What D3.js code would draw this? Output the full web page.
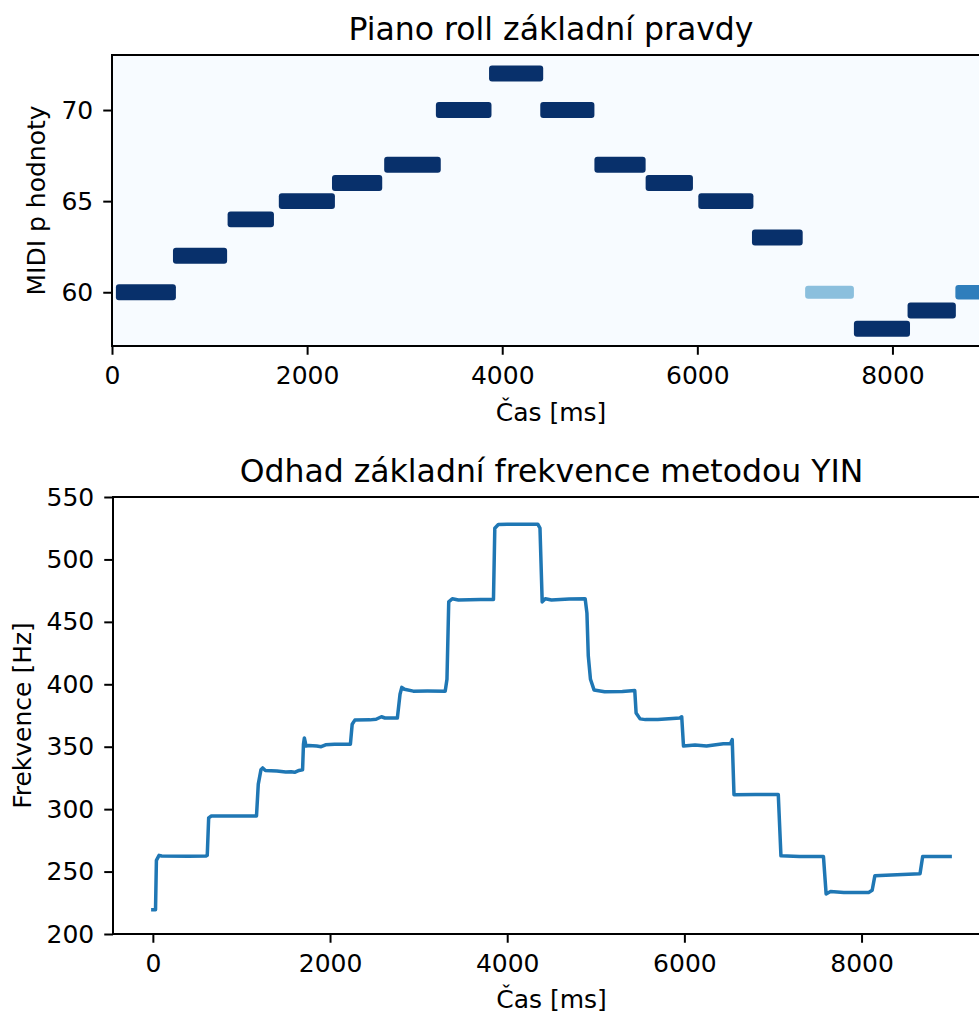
<!DOCTYPE html>
<html>
<head>
<meta charset="utf-8">
<script src="https://cdn.jsdelivr.net/npm/d3@7"></script>
<style>
  body { margin: 0; background: #fff; }
  svg { display: block; font-family: "DejaVu Sans", sans-serif; }
</style>
</head>
<body>
<svg id="chart" width="979" height="1014"></svg>
<script>
// ground-truth notes (piano roll)
const notePitch = [60, 62, 64, 65, 66, 67, 70, 72, 70, 67, 66, 65, 63, 60, 58, 59, 60];
const noteOn    = [40, 625, 1185, 1710, 2255, 2790, 3320, 3865, 4390, 4945, 5470, 6010, 6560, 7105, 7605, 8155, 8645];
const noteOff   = [655, 1180, 1660, 2285, 2770, 3370, 3890, 4420, 4945, 5470, 5955, 6575, 7080, 7605, 8180, 8650, 9000];
const noteVel   = [1, 1, 1, 1, 1, 1, 1, 1, 1, 1, 1, 1, 1, 0.42, 1, 1, 0.7];

// YIN estimate
const timeMs = [0, 30, 40, 70, 100, 400, 600, 614, 630, 660, 900, 1170, 1190, 1220, 1240, 1270, 1400, 1500, 1560, 1600,
  1650, 1690, 1700, 1710, 1730, 1760, 1850, 1900, 1950, 2050, 2230, 2250, 2280, 2450, 2520, 2580, 2620, 2760, 2790, 2810,
  2840, 2940, 3100, 3300, 3320, 3340, 3380, 3450, 3700, 3845, 3860, 3900, 4000, 4345, 4370, 4395, 4430, 4500, 4700, 4880,
  4900, 4915, 4940, 4980, 5100, 5300, 5440, 5455, 5500, 5560, 5700, 5950, 5970, 5990, 6120, 6250, 6440, 6520, 6540, 6560,
  6800, 7060, 7090, 7300, 7570, 7600, 7650, 7800, 8080, 8120, 8150, 8400, 8660, 8690, 8800, 9000];
const freqHz = [219.5, 219.5, 259, 263, 262.5, 262.3, 262.4, 263, 293, 294.5, 294.6, 294.6, 320, 331.5, 333, 331, 330.5, 329.8, 330, 329.5,
  331, 331.5, 352, 357, 350.5, 351, 350.5, 350, 351.5, 352, 352, 368, 371.3, 371.5, 372, 374, 373, 373, 392, 397.5,
  396, 394.5, 394.6, 394.5, 404, 466, 468.5, 467.5, 468, 468, 525, 528, 528.2, 528.2, 525, 466, 468.5, 467.5, 468.3, 468.5,
  457, 423, 404, 395.5, 394, 394.3, 395, 377, 372.3, 371.7, 371.7, 373, 374, 350.5, 351.3, 350.5, 352.4, 352.4, 355.7, 311.6,
  311.7, 311.7, 262.6, 262, 262, 232.1, 234, 233.3, 233.3, 235, 246.6, 247.5, 248.2, 262, 262, 262];

const xTicks = [0, 2000, 4000, 6000, 8000];
const midiTicks = [60, 65, 70];
const hzTicks = [200, 250, 300, 350, 400, 450, 500, 550];

const svg = d3.select("#chart");
const fs = 25;
const titleFs = 31.5;

function styleAxis(g) {
  g.attr("font-family", "DejaVu Sans").attr("font-size", fs);
  g.selectAll("path").remove();
  g.selectAll("line").attr("stroke", "#000").attr("stroke-width", 2);
  g.selectAll("text").attr("fill", "#000");
}

// ---------- top: piano roll ----------
const roll = { l: 112, r: 990, t: 55, b: 346 };
const x1 = d3.scaleLinear().domain([0, 9000]).range([roll.l, roll.r]);
const y1 = d3.scaleLinear().domain([57.05, 73.02]).range([roll.b, roll.t]);
const color = d3.scaleSequential(d3.interpolateBlues).domain([0, 1]);

svg.append("rect")
  .attr("x", roll.l).attr("y", roll.t)
  .attr("width", roll.r - roll.l).attr("height", roll.b - roll.t)
  .attr("fill", color(0));

const semi = y1(0) - y1(1);
svg.append("g")
  .selectAll("rect")
  .data(notePitch)
  .join("rect")
  .attr("x", (d, i) => x1(noteOn[i]))
  .attr("width", (d, i) => x1(noteOff[i]) - x1(noteOn[i]))
  .attr("y", (d, i) => y1(d) - semi * (0.3 + 0.3 * noteVel[i]) / 2 - 2.5)
  .attr("height", (d, i) => semi * (0.3 + 0.3 * noteVel[i]) + 5)
  .attr("rx", 3)
  .attr("fill", (d, i) => color(noteVel[i]));

svg.append("rect")
  .attr("x", roll.l).attr("y", roll.t)
  .attr("width", roll.r - roll.l).attr("height", roll.b - roll.t)
  .attr("fill", "none").attr("stroke", "#000").attr("stroke-width", 2);

svg.append("g")
  .attr("transform", `translate(0,${roll.b})`)
  .call(d3.axisBottom(x1).tickValues(xTicks).tickSize(8.75).tickPadding(11.5).tickFormat(d3.format("d")))
  .call(styleAxis);

svg.append("g")
  .attr("transform", `translate(${roll.l},0)`)
  .call(d3.axisLeft(y1).tickValues(midiTicks).tickSize(8.75).tickPadding(10))
  .call(styleAxis);

svg.append("text")
  .attr("x", (roll.l + roll.r) / 2).attr("y", 40)
  .attr("text-anchor", "middle").attr("font-size", titleFs)
  .text("Piano roll základní pravdy");

svg.append("text")
  .attr("x", (roll.l + roll.r) / 2).attr("y", 421)
  .attr("text-anchor", "middle").attr("font-size", fs)
  .text("Čas [ms]");

svg.append("text")
  .attr("transform", `translate(45,${(roll.t + roll.b) / 2}) rotate(-90)`)
  .attr("text-anchor", "middle").attr("font-size", fs)
  .text("MIDI p hodnoty");

// ---------- bottom: YIN ----------
const yin = { l: 113, r: 990, t: 497, b: 934 };
const x2 = d3.scaleLinear().domain([-450, 9450]).range([yin.l, yin.r]);
const y2 = d3.scaleLinear().domain([200, 550]).range([yin.b, yin.t]);

const line = d3.line()
  .x((d, i) => x2(timeMs[i]))
  .y(d => y2(d));

svg.append("path")
  .datum(freqHz)
  .attr("d", line)
  .attr("fill", "none")
  .attr("stroke", "#1f77b4")
  .attr("stroke-width", 3.5)
  .attr("stroke-linejoin", "round")
  .attr("stroke-linecap", "square");

svg.append("rect")
  .attr("x", yin.l).attr("y", yin.t)
  .attr("width", yin.r - yin.l).attr("height", yin.b - yin.t)
  .attr("fill", "none").attr("stroke", "#000").attr("stroke-width", 2);

svg.append("g")
  .attr("transform", `translate(0,${yin.b})`)
  .call(d3.axisBottom(x2).tickValues(xTicks).tickSize(8.75).tickPadding(11.5).tickFormat(d3.format("d")))
  .call(styleAxis);

svg.append("g")
  .attr("transform", `translate(${yin.l},0)`)
  .call(d3.axisLeft(y2).tickValues(hzTicks).tickSize(8.75).tickPadding(10))
  .call(styleAxis);

svg.append("text")
  .attr("x", (yin.l + yin.r) / 2).attr("y", 482)
  .attr("text-anchor", "middle").attr("font-size", titleFs)
  .text("Odhad základní frekvence metodou YIN");

svg.append("text")
  .attr("x", (yin.l + yin.r) / 2).attr("y", 1008)
  .attr("text-anchor", "middle").attr("font-size", fs)
  .text("Čas [ms]");

svg.append("text")
  .attr("transform", `translate(31,${(yin.t + yin.b) / 2}) rotate(-90)`)
  .attr("text-anchor", "middle").attr("font-size", fs)
  .text("Frekvence [Hz]");
</script>
</body>
</html>
